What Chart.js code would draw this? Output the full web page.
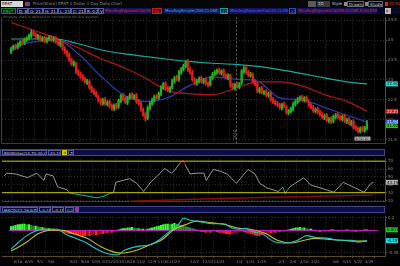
<!DOCTYPE html>
<html>
<head>
<meta charset="utf-8">
<script src="https://cdn.jsdelivr.net/npm/chart.js@4.4.1/dist/chart.umd.min.js"></script>
<style>
  body { margin: 0; background: #000; }
  #wrap { position: relative; width: 400px; height: 266px; overflow: hidden; background: #000; font-family: 'DejaVu Sans', sans-serif; }
  #wrap canvas { position: absolute; left: 0; }
  .row { position: absolute; left: 0; box-sizing: border-box; }
  .row span { position: absolute; box-sizing: border-box; white-space: nowrap; overflow: hidden; font-size: 4px; padding: 0 1px; }
  .hdr { height: 7px; width: 385px; background: #0c0c48; border: 1px solid #45458e; }
  .hdr span { top: 0; height: 5px; line-height: 5px; border: 1px solid #5a5a9a; background: #08082c; color: #c8c8c8; }
</style>
</head>
<body>
<div id="wrap">
  <!-- toolbar -->
  <div class="row" style="top:0;height:8px;width:400px;background:#060606">
    <span style="left:1px;top:1px;height:6px;width:22px;line-height:6px;background:#d8d8d8;color:#000">ERST</span>
    <span style="left:25px;top:2px;height:4px;width:5px;background:#c03030;border-right:2px solid #3050c0"></span>
    <span style="left:32px;top:1px;height:6px;line-height:6px;color:#8a8a8a">Price(Stock) ERST 1 Dollar 1 Day Daily Chart</span>
    <span style="left:308px;top:1px;height:6px;width:8px;background:#5a5a5a"></span>
    <span style="left:317px;top:1px;height:6px;width:13px;line-height:6px;background:#3a3a3a;color:#ccc">1D</span>
    <span style="left:331px;top:1px;height:6px;width:12px;line-height:6px;color:#cfcfcf">Style</span>
    <span style="left:344px;top:2px;height:4px;width:3px;background:#8a8a8a"></span>
    <span style="left:347px;top:1px;height:6px;width:17px;line-height:6px;color:#cfcfcf;border:1px solid #666">Drawings</span>
    <span style="left:365px;top:2px;height:4px;width:3px;background:#8a8a8a"></span>
    <span style="left:368px;top:1px;height:6px;width:15px;line-height:6px;color:#cfcfcf;border:1px solid #666">Studies</span>
    <span style="left:385px;top:2px;height:4px;width:3px;background:#e02020"></span>
    <span style="left:388px;top:1px;height:6px;width:12px;line-height:6px;color:#ff3030">21.92</span>
  </div>
  <!-- study header row -->
  <div class="row" style="top:8px;height:6px;width:400px;background:#07072a">
    <span style="left:1px;top:0;height:6px;width:15px;line-height:5px;color:#40d040;border:1px solid #208020">ERST 1 D</span>
    <span style="left:17px;top:0;height:6px;width:11px;line-height:5px;color:#ddd;border:1px solid #5a5a9a">D: 8/6</span>
    <span style="left:28px;top:0;height:6px;width:15px;line-height:5px;color:#ddd;border:1px solid #5a5a9a">O: 21.78</span>
    <span style="left:43px;top:0;height:6px;width:15px;line-height:5px;color:#ddd;border:1px solid #5a5a9a">H: 21.98</span>
    <span style="left:58px;top:0;height:6px;width:13px;line-height:5px;color:#ddd;border:1px solid #5a5a9a">L: 21.74</span>
    <span style="left:71px;top:0;height:6px;width:14px;line-height:5px;color:#ddd;border:1px solid #5a5a9a">C: 21.92</span>
    <span style="left:85px;top:0;height:6px;width:13px;line-height:5px;color:#ddd;border:1px solid #5a5a9a">R: 0.24</span>
    <span style="left:98px;top:0;height:6px;width:6px;line-height:5px;color:#ddd;border:1px solid #5a5a9a">V</span>
    <span style="left:104px;top:0;height:6px;width:47px;line-height:5px;color:#e02828;background:#12125a">MovAvgExponential(50,CLOSE,0,no) 22.21</span>
    <span style="left:152px;top:0;height:6px;width:10px;line-height:5px;color:#ff4040;background:#5a0a0a;border:1px solid #c02020">22.21</span>
    <span style="left:164px;top:0;height:6px;width:55px;line-height:5px;color:#20c8c8;background:#12125a">MovAvgSimple(200,CLOSE,0,no) 22.90</span>
    <span style="left:220px;top:0;height:6px;width:8px;line-height:5px;color:#20e0e0;border:1px solid #20a0a0">22.9</span>
    <span style="left:229px;top:0;height:6px;width:59px;line-height:5px;color:#4a6aff;background:#12125a">MovAvgExponential(20,CLOSE,0,no) 21.94</span>
    <span style="left:289px;top:0;height:6px;width:7px;line-height:5px;color:#6a8aff;border:1px solid #3050c0">21.9</span>
    <span style="left:297px;top:0;height:6px;width:80px;line-height:5px;color:#e02828;background:#12125a">MovAvgExponential(50,CLOSE,0,no,EXPONENTIAL) 22.21</span>
    <span style="left:385px;top:0;height:6px;width:6px;line-height:5px;color:#222;background:#bbb">x</span>
  </div>
  <div class="row" style="top:15px;height:4px;width:120px;z-index:2">
    <span style="left:2px;top:0;height:4px;line-height:4px;font-size:3.5px;color:#5e5e5e">Intraday data is delayed or incomplete for this symbol.</span>
  </div>

  <canvas id="priceChart" width="400" height="133" style="top:14px"></canvas>

  <div class="row hdr" style="top:149px">
    <span style="left:1px;width:45px;color:#c8c8c8">RSIWilder(14,70,30,CLOSE)</span>
    <span style="left:47px;width:13px;color:#c8c8c8">43.1905</span>
    <span style="left:61px;width:5px;color:#000;background:#b8b800;border-color:#d0d000">30</span>
    <span style="left:67px;width:6px;color:#ddd">70</span>
  </div>
  <canvas id="rsiChart" width="400" height="50" style="top:155px"></canvas>

  <div class="row hdr" style="top:206px">
    <span style="left:1px;width:36px;color:#7ad8ff">MACD(12,26,9,EMA)</span>
    <span style="left:38px;width:12px;color:#20e0e0">-0.1569</span>
    <span style="left:51px;width:12px;color:#d8d820">-0.1565</span>
    <span style="left:64px;width:9px;color:#30e030">0.001</span>
    <span style="left:74px;width:3px;background:#c020c0"></span>
  </div>
  <canvas id="macdChart" width="400" height="53" style="top:213px"></canvas>
</div>

<script>
// ---- price data (daily bars, index 0..159) ----
const opens = [
  23.70,23.78,23.86,23.82,23.88,23.97,23.93,24.00,24.04,24.10,
  24.22,24.16,24.06,24.10,24.00,24.07,23.97,24.02,24.09,23.99,
  24.06,23.97,23.88,23.95,23.80,23.72,23.64,23.52,23.38,23.42,
  23.22,23.16,23.10,23.04,22.92,22.96,22.82,22.74,22.68,22.58,
  22.50,22.40,22.52,22.38,22.46,22.36,22.26,22.38,22.32,22.46,
  22.62,22.54,22.42,22.54,22.64,22.54,22.62,22.48,22.42,22.26,
  22.14,22.04,22.28,22.40,22.48,22.60,22.54,22.64,22.80,22.92,
  22.80,22.72,22.82,22.96,23.08,23.00,23.18,23.26,23.34,23.46,
  23.28,23.20,23.02,22.90,22.96,23.06,22.94,23.02,22.92,22.88,
  23.04,23.14,23.18,23.26,23.16,23.24,23.12,23.04,23.10,22.88,
  22.78,22.90,22.82,22.92,23.20,23.32,23.20,23.10,23.14,22.98,
  22.90,22.70,22.80,22.66,22.72,22.60,22.68,22.52,22.46,22.42,
  22.38,22.28,22.40,22.32,22.16,22.20,22.26,22.38,22.44,22.50,
  22.58,22.48,22.56,22.46,22.38,22.32,22.20,22.28,22.20,22.14,
  22.04,22.12,21.96,22.04,21.96,22.06,22.14,22.08,22.00,22.10,
  21.94,22.02,21.88,21.96,21.82,21.78,21.70,21.80,21.72,21.78
];
const highs = [
  23.82,23.88,23.90,23.94,23.99,24.00,24.06,24.09,24.16,24.26,
  24.25,24.19,24.15,24.13,24.10,24.10,24.08,24.12,24.12,24.09,
  24.09,24.00,24.00,23.98,23.84,23.75,23.68,23.55,23.48,23.45,
  23.26,23.20,23.14,23.07,23.02,23.00,22.86,22.78,22.72,22.62,
  22.54,22.54,22.56,22.48,22.50,22.40,22.40,22.41,22.52,22.64,
  22.66,22.58,22.59,22.66,22.68,22.64,22.66,22.52,22.46,22.30,
  22.18,22.34,22.46,22.54,22.62,22.64,22.70,22.86,22.94,22.96,
  22.84,22.84,23.02,23.09,23.12,23.24,23.32,23.40,23.50,23.52,
  23.32,23.24,23.06,23.02,23.08,23.10,23.04,23.06,22.96,23.09,
  23.19,23.24,23.28,23.30,23.26,23.28,23.16,23.16,23.14,22.92,
  22.92,22.94,22.94,23.26,23.34,23.36,23.24,23.19,23.18,23.02,
  22.94,22.82,22.84,22.74,22.76,22.70,22.72,22.56,22.50,22.46,
  22.42,22.42,22.44,22.36,22.26,22.32,22.44,22.50,22.56,22.60,
  22.62,22.58,22.60,22.50,22.42,22.36,22.30,22.32,22.24,22.18,
  22.14,22.16,22.06,22.08,22.12,22.16,22.18,22.12,22.12,22.14,
  22.04,22.06,21.98,22.00,21.86,21.82,21.82,21.84,21.84,21.98
];
const lows = [
  23.66,23.74,23.76,23.78,23.84,23.88,23.89,23.96,24.00,24.06,
  24.11,24.04,24.02,23.98,23.96,23.94,23.93,23.98,23.96,23.95,
  23.91,23.86,23.84,23.74,23.66,23.58,23.46,23.36,23.34,23.16,
  23.11,23.04,22.98,22.91,22.88,22.76,22.68,22.62,22.56,22.44,
  22.38,22.36,22.36,22.34,22.30,22.24,22.22,22.26,22.28,22.42,
  22.48,22.40,22.38,22.50,22.52,22.50,22.41,22.36,22.21,22.08,
  21.96,22.00,22.24,22.36,22.44,22.51,22.50,22.60,22.76,22.74,
  22.70,22.68,22.78,22.92,22.98,22.96,23.14,23.22,23.30,23.21,
  23.14,22.96,22.88,22.86,22.92,22.92,22.90,22.86,22.82,22.84,
  23.00,23.10,23.14,23.14,23.12,23.06,23.02,23.00,22.81,22.76,
  22.74,22.80,22.78,22.88,23.16,23.14,23.08,23.06,22.91,22.84,
  22.68,22.66,22.64,22.62,22.58,22.56,22.46,22.40,22.36,22.32,
  22.26,22.24,22.30,22.14,22.12,22.16,22.22,22.34,22.40,22.46,
  22.46,22.44,22.44,22.32,22.26,22.18,22.16,22.14,22.08,22.02,
  22.00,21.94,21.92,21.90,21.92,22.02,22.02,21.98,21.96,21.92,
  21.90,21.86,21.84,21.76,21.72,21.66,21.66,21.70,21.68,21.74
];
const closes = [
  23.78,23.84,23.80,23.90,23.95,23.92,24.02,24.05,24.12,24.20,
  24.15,24.08,24.12,24.02,24.06,23.98,24.04,24.08,24.00,24.05,
  23.95,23.90,23.96,23.78,23.70,23.62,23.50,23.40,23.44,23.20,
  23.15,23.08,23.02,22.95,22.98,22.80,22.72,22.66,22.60,22.48,
  22.42,22.50,22.40,22.44,22.34,22.28,22.36,22.30,22.48,22.60,
  22.52,22.44,22.55,22.62,22.56,22.60,22.45,22.40,22.25,22.12,
  22.02,22.30,22.42,22.50,22.58,22.55,22.66,22.82,22.90,22.78,
  22.74,22.80,22.98,23.05,23.02,23.20,23.28,23.36,23.44,23.25,
  23.18,23.00,22.92,22.98,23.04,22.96,23.00,22.90,22.86,23.05,
  23.15,23.20,23.24,23.18,23.22,23.10,23.06,23.12,22.85,22.80,
  22.88,22.84,22.90,23.22,23.30,23.18,23.12,23.15,22.95,22.88,
  22.72,22.78,22.68,22.70,22.62,22.66,22.50,22.44,22.40,22.36,
  22.30,22.38,22.34,22.18,22.22,22.28,22.40,22.46,22.52,22.56,
  22.50,22.54,22.48,22.36,22.30,22.22,22.26,22.18,22.12,22.06,
  22.10,21.98,22.02,21.94,22.08,22.12,22.06,22.02,22.08,21.96,
  22.00,21.90,21.94,21.80,21.76,21.70,21.78,21.74,21.80,21.92
];

// ---- moving averages, read every 10 bars ----
const maIdx  = [0, 10, 20, 30, 40, 50, 60, 70, 80, 90, 100, 110, 120, 130, 140, 150, 159];
const maSlow = [24.03,24.03,24.03,23.91,23.76,23.66,23.59,23.52,23.46,23.42,23.39,23.34,23.26,23.16,23.05,22.95,22.90];
const maMid  = [24.45,24.25,24.06,23.81,23.54,23.32,23.05,22.73,22.65,22.63,22.78,22.95,22.95,22.85,22.63,22.46,22.21];
const maFast = [23.83,23.96,24.01,23.66,23.10,22.63,22.46,22.55,22.87,23.07,23.02,22.97,22.55,22.50,22.31,22.11,21.94];

// ---- RSI ----
const rsiIdx = [0,1,5,10,14,17,18,21,23,27,28,31,36,40,43,46,47,48,51,54,57,60,63,66,69,72,73,76,77,78,
  80,83,86,87,90,93,96,100,105,108,110,113,118,120,121,123,126,129,132,136,142,146,151,155,158,159];
const rsiVals = [51.3,54.8,53.7,49.0,54.8,45.5,53.7,51.3,37.3,33.8,29.8,28.0,25.7,23.4,25.7,29.8,29.8,43.2,45.5,47.8,
  42.0,31.5,43.2,51.3,60.7,54.8,57.2,68.5,71.2,65.0,53.7,54.8,54.8,45.5,59.5,57.2,53.7,42.0,59.5,53.7,
  42.0,36.2,31.5,37.3,29.0,37.3,43.2,49.0,39.7,36.2,30.6,43.2,36.2,30.6,42.0,43.2];
const rsiTrendIdx = [55, 85, 120, 159];
const rsiTrendVals = [19.2, 22.0, 24.6, 26.9];
const rsiHigh = 70, rsiLow = 30;

// ---- MACD ----
const macdIdx = [0,3,7,11,15,21,24,28,33,37,41,46,48,50,56,62,66,70,75,77,80,85,90,95,99,102,105,107,112,118,
  123,128,132,136,142,146,152,155,158,159];
const macdVals = [-0.29,-0.196,-0.081,-0.01,0.019,0.019,-0.053,-0.11,-0.181,-0.267,-0.339,-0.381,-0.381,-0.324,-0.253,
  -0.224,-0.153,-0.039,0.104,0.19,0.161,0.133,0.104,0.104,0.033,0.019,0.033,-0.01,-0.053,-0.181,
  -0.196,-0.153,-0.081,-0.11,-0.124,-0.153,-0.153,-0.181,-0.167,-0.16];
const sigIdx = [0,3,7,12,18,23,28,34,40,46,50,56,62,67,73,79,83,90,96,102,107,114,119,125,131,136,142,148,154,159];
const sigVals = [-0.32,-0.267,-0.181,-0.053,0.004,0.004,-0.053,-0.124,-0.253,-0.339,-0.353,-0.31,-0.224,-0.153,0.019,
  0.104,0.147,0.119,0.09,0.033,0.019,-0.053,-0.153,-0.196,-0.153,-0.124,-0.139,-0.153,-0.167,-0.167];
const macdHist = [
  0.06,0.07,0.08,0.09,0.09,0.10,0.10,0.09,0.09,0.08,0.07,0.07,0.06,0.05,0.05,0.04,0.03,0.03,0.02,0.02,0.01,0.00,
  -0.01,-0.02,-0.03,-0.04,-0.05,-0.05,-0.06,-0.06,-0.07,-0.07,-0.08,-0.08,-0.07,-0.08,-0.07,-0.06,-0.07,-0.06,
  -0.05,-0.05,-0.04,-0.04,-0.03,-0.03,-0.02,-0.01,
  0.01,0.02,0.03,0.03,0.04,0.04,0.05,0.04,0.03,0.03,0.02,0.02,0.01,0.02,0.03,0.04,0.05,0.06,0.07,0.08,
  0.09,0.10,0.10,0.09,0.10,0.11,0.10,0.09,0.08,0.07,0.06,0.05,0.04,0.03,0.02,0.01,
  -0.01,-0.02,-0.02,-0.03,-0.02,-0.03,-0.02,-0.01,-0.02,-0.03,-0.03,-0.04,-0.05,-0.05,-0.06,-0.05,-0.04,-0.03,
  -0.02,-0.01,-0.02,-0.03,-0.04,-0.05,-0.06,-0.07,-0.08,-0.08,-0.07,-0.06,-0.05,-0.04,-0.04,-0.03,-0.03,-0.02,
  -0.02,-0.01,-0.01,0.00,0.01,
  0.02,0.03,0.04,0.04,0.05,0.04,0.04,0.03,0.02,0.02,0.01,
  -0.01,-0.01,-0.02,-0.01,-0.01,0.00,-0.01,0.01,0.01,0.00,-0.01,-0.01,0.00,-0.01,0.01,0.00,-0.01,-0.01,-0.02,-0.01,
  -0.01,0.00,0.01,0.01
];

// ---- axis ticks ----
const tickIdx = [3, 8, 13, 18, 28, 33, 38, 43, 48, 53, 58, 63, 68, 73, 82, 88, 93, 102, 107, 112, 121, 126, 131, 136, 145, 150, 155, 160];
const tickLabels = ['8/18','8/25','9/1','9/8','9/21','9/28','10/5','10/12','10/19','10/26','11/2','11/9','11/16','11/23',
  '12/7','12/14','12/21','1/4','1/11','1/19','2/1','2/8','2/16','2/22','3/8','3/15','3/22','3/29'];
const priceTicks = [24.5, 24, 23.5, 23, 22.5, 22, 21.5];
const rsiTicks = [70, 60, 50, 40, 30, 20];
const macdTicks = [0.2, -0.35];
const yearBreak = 100.3;

Chart.defaults.font.family = 'DejaVu Sans';

const gridCol = '#2e2e2e';
const axisCol = '#5a4a28';
const pts = (xs, ys) => xs.map((x, i) => ({ x: x, y: ys[i] }));

function xScale(showLabels) {
  return {
    type: 'linear', min: -1, max: 164,
    afterBuildTicks: s => { s.ticks = tickIdx.map(v => ({ value: v })); },
    afterFit: s => { s.height = showLabels ? 10 : 0; },
    grid: { color: gridCol, drawTicks: showLabels, tickLength: 2, tickColor: axisCol },
    border: { display: true, color: showLabels ? axisCol : '#3c3c3c', dash: [1, 2] },
    ticks: {
      display: showLabels, autoSkip: false, maxRotation: 0, padding: 2,
      color: '#8c8c8c', font: { size: 3.8 },
      callback: (v, i) => tickLabels[i]
    }
  };
}

function yScale(min, max, ticks) {
  return {
    position: 'right', min: min, max: max,
    afterBuildTicks: s => { s.ticks = ticks.map(v => ({ value: v })); },
    afterFit: s => { s.width = 15; },
    grid: { color: gridCol, tickLength: 2, tickColor: axisCol },
    border: { color: axisCol, dash: [1, 2] },
    ticks: { color: '#8c8c8c', font: { size: 4 }, padding: 1, callback: v => String(v) }
  };
}

// coloured value flags on the right axis
const valueBoxes = {
  id: 'valueBoxes',
  afterDraw(chart, args, opts) {
    const { ctx, chartArea } = chart;
    const ys = chart.scales.y;
    ctx.save();
    ctx.font = '4px DejaVu Sans';
    ctx.textBaseline = 'middle';
    (opts.boxes || []).forEach(b => {
      const py = ys.getPixelForValue(b.value);
      ctx.fillStyle = b.bg;
      ctx.fillRect(chartArea.right + 1, py - 2.5, 12, 5);
      ctx.fillStyle = b.fg;
      ctx.fillText(b.text, chartArea.right + 2, py + 0.3);
    });
    if (opts.leftBorder) {
      ctx.strokeStyle = opts.leftBorder;
      ctx.lineWidth = 1;
      ctx.beginPath();
      ctx.moveTo(chartArea.left - 0.5, chartArea.top);
      ctx.lineTo(chartArea.left - 0.5, chartArea.bottom);
      ctx.stroke();
    }
    ctx.restore();
  }
};

// year separator and time stamp on the price panel
const yearMark = {
  id: 'yearMark',
  afterDatasetsDraw(chart, args, opts) {
    const { ctx, chartArea } = chart;
    const px = Math.round(chart.scales.x.getPixelForValue(opts.at)) + 0.5;
    ctx.save();
    ctx.strokeStyle = '#6a6a6a';
    ctx.setLineDash([2, 2]);
    ctx.beginPath();
    ctx.moveTo(px, chartArea.top);
    ctx.lineTo(px, chartArea.bottom);
    ctx.stroke();
    ctx.setLineDash([]);
    ctx.font = '4px DejaVu Sans';
    ctx.textBaseline = 'middle';
    ctx.translate(px - 1.5, chartArea.bottom - 4);
    ctx.rotate(-Math.PI / 2);
    ctx.fillStyle = '#8a7a52';
    ctx.fillText(opts.text, 0, 0);
    ctx.restore();

    const sx = chart.scales.x.getPixelForValue(opts.stampAt);
    ctx.save();
    ctx.fillStyle = '#b4b4b4';
    ctx.fillRect(sx - 8, chartArea.bottom - 7, 16, 4);
    ctx.fillStyle = '#111';
    ctx.font = '3.5px DejaVu Sans';
    ctx.textBaseline = 'middle';
    ctx.fillText(opts.stamp, sx - 7.5, chartArea.bottom - 5);
    ctx.restore();
  }
};

const baseOpts = {
  responsive: false, animation: false, events: [],
  plugins: { legend: { display: false }, tooltip: { enabled: false } }
};

// ---- price panel ----
const upCol = '#22b322', downCol = '#e31c1c';
const candleCols = closes.map((c, i) => (c >= opens[i] ? upCol : downCol));

new Chart(document.getElementById('priceChart'), {
  type: 'bar',
  data: {
    datasets: [
      { data: closes.map((c, i) => ({ x: i, y: [lows[i], highs[i]] })), backgroundColor: candleCols,
        barThickness: 0.9, grouped: false, order: 1 },
      { data: closes.map((c, i) => ({ x: i, y: [opens[i], c] })), backgroundColor: candleCols,
        barThickness: 1.6, grouped: false, order: 0 },
      { type: 'line', data: pts(maIdx, maSlow), borderColor: '#1fa7a0', borderWidth: 1.2, pointRadius: 0,
        cubicInterpolationMode: 'monotone', order: 2 },
      { type: 'line', data: pts(maIdx, maMid), borderColor: '#b0141a', borderWidth: 1.2, pointRadius: 0,
        cubicInterpolationMode: 'monotone', order: 2 },
      { type: 'line', data: pts(maIdx, maFast), borderColor: '#2a3fb8', borderWidth: 1.2, pointRadius: 0,
        cubicInterpolationMode: 'monotone', order: 2 }
    ]
  },
  options: {
    ...baseOpts,
    layout: { padding: { left: 2, right: 0, top: 2, bottom: 2 } },
    scales: { x: xScale(false), y: yScale(21.397, 24.574, priceTicks) },
    plugins: {
      ...baseOpts.plugins,
      valueBoxes: {
        leftBorder: '#2438a8',
        boxes: [
          { value: maSlow[maSlow.length - 1], text: '22.90', bg: '#1fe0e0', fg: '#000' },
          { value: maMid[maMid.length - 1], text: '22.21', bg: '#e01010', fg: '#fff' },
          { value: maFast[maFast.length - 1], text: '21.94', bg: '#2f4fe0', fg: '#fff' },
          { value: closes[closes.length - 1] - 0.07, text: '21.92', bg: '#1fc81f', fg: '#000' }
        ]
      },
      yearMark: { at: yearBreak, text: '2010', stampAt: 157, stamp: '3/31/10' }
    }
  },
  plugins: [valueBoxes, yearMark]
});

// ---- RSI panel ----
new Chart(document.getElementById('rsiChart'), {
  type: 'line',
  data: {
    datasets: [
      { data: [{ x: -1, y: rsiHigh }, { x: 164, y: rsiHigh }], borderColor: '#c8c800', borderWidth: 1, pointRadius: 0 },
      { data: [{ x: -1, y: rsiLow }, { x: 164, y: rsiLow }], borderColor: '#c8c800', borderWidth: 1, pointRadius: 0 },
      { data: pts(rsiTrendIdx, rsiTrendVals), borderColor: '#8a0a0a', borderWidth: 1.4, pointRadius: 0 },
      { data: pts(rsiIdx, rsiVals), borderColor: '#a8a8a8', borderWidth: 0.9, pointRadius: 0,
        segment: {
          borderColor: c => {
            const a = c.p0.parsed.y, b = c.p1.parsed.y;
            if (Math.min(a, b) < 30 && Math.max(a, b) < 38) return '#22c4c4';
            if (Math.max(a, b) > 70) return '#e02020';
            return undefined;
          }
        } }
    ]
  },
  options: {
    ...baseOpts,
    layout: { padding: { left: 2, right: 0, top: 1, bottom: 2 } },
    scales: { x: xScale(false), y: yScale(18.7, 73.5, rsiTicks) },
    plugins: {
      ...baseOpts.plugins,
      valueBoxes: { boxes: [{ value: rsiVals[rsiVals.length - 1], text: '43.19', bg: '#b0b0b0', fg: '#000' }] }
    }
  },
  plugins: [valueBoxes]
});

// ---- MACD panel ----
const histCols = macdHist.map((h, i) => {
  const prev = i ? macdHist[i - 1] : 0;
  if (h >= 0) return h >= prev ? '#3cff3c' : '#1e9a1e';
  return h <= prev ? '#ff2424' : '#9a1414';
});

new Chart(document.getElementById('macdChart'), {
  type: 'bar',
  data: {
    datasets: [
      { data: macdHist.map((h, i) => ({ x: i, y: h })), backgroundColor: histCols, barThickness: 1.5, order: 3 },
      { type: 'line', data: [{ x: -1, y: 0 }, { x: 164, y: 0 }], borderColor: '#c41cc4', borderWidth: 1, pointRadius: 0, order: 2 },
      { type: 'line', data: pts(sigIdx, sigVals), borderColor: '#c8c020', borderWidth: 1.1, pointRadius: 0,
        cubicInterpolationMode: 'monotone', order: 1 },
      { type: 'line', data: pts(macdIdx, macdVals), borderColor: '#22c8d0', borderWidth: 1.1, pointRadius: 0,
        cubicInterpolationMode: 'monotone', order: 0 }
    ]
  },
  options: {
    ...baseOpts,
    layout: { padding: { left: 2, right: 0, top: 1, bottom: 0 } },
    scales: { x: xScale(true), y: yScale(-0.40, 0.22, macdTicks) },
    plugins: {
      ...baseOpts.plugins,
      valueBoxes: {
        boxes: [
          { value: macdHist[macdHist.length - 1], text: '0.001', bg: '#20d020', fg: '#000' },
          { value: macdVals[macdVals.length - 1], text: '-0.157', bg: '#22d8e0', fg: '#000' }
        ]
      }
    }
  },
  plugins: [valueBoxes]
});
</script>
</body>
</html>
